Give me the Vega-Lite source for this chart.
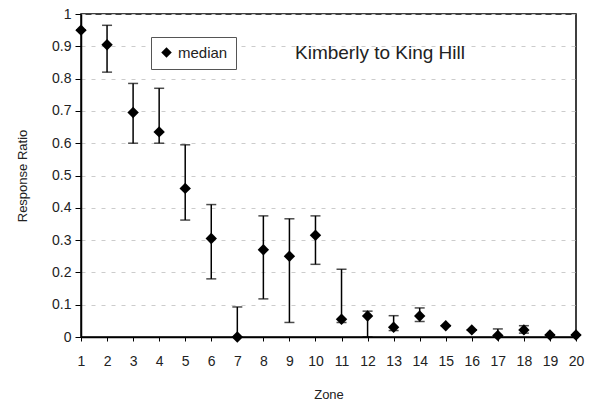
{
  "$schema": "https://vega.github.io/schema/vega-lite/v6.json",
  "width": 495,
  "height": 323,
  "autosize": "none",
  "padding": {"left": 81, "top": 14, "right": 18, "bottom": 74},
  "background": "white",
  "title": {"text": "Kimberly to King Hill", "anchor": "start", "frame": "group", "orient": "top", "offset": 0, "baseline": "alphabetic", "dx": 214, "dy": 71, "fontSize": 19, "fontWeight": "normal", "font": "Liberation Sans", "color": "#222"},
  "config": {
    "font": "Liberation Sans",
    "view": {"stroke": "black", "strokeWidth": 1.5},
    "axis": {"labelFont": "Liberation Sans", "titleFont": "Liberation Sans", "labelColor": "#222", "titleColor": "#222", "domainColor": "black", "tickColor": "black", "titleFontWeight": "normal", "labelOverlap": false, "labelBound": false, "labelFlush": false}
  },
  "resolve": {"axis": {"y": "independent"}},
  "data": {
    "values": [
      {"zone": 1, "median": 0.95, "lo": 0.95, "hi": 0.95},
      {"zone": 2, "median": 0.905, "lo": 0.82, "hi": 0.965},
      {"zone": 3, "median": 0.695, "lo": 0.6, "hi": 0.785},
      {"zone": 4, "median": 0.635, "lo": 0.6, "hi": 0.77},
      {"zone": 5, "median": 0.46, "lo": 0.362, "hi": 0.595},
      {"zone": 6, "median": 0.305, "lo": 0.18, "hi": 0.41},
      {"zone": 7, "median": 0.0, "lo": 0.0, "hi": 0.093},
      {"zone": 8, "median": 0.27, "lo": 0.118, "hi": 0.375},
      {"zone": 9, "median": 0.25, "lo": 0.045, "hi": 0.366},
      {"zone": 10, "median": 0.315, "lo": 0.225, "hi": 0.375},
      {"zone": 11, "median": 0.055, "lo": 0.045, "hi": 0.21},
      {"zone": 12, "median": 0.065, "lo": 0.0, "hi": 0.08},
      {"zone": 13, "median": 0.03, "lo": 0.02, "hi": 0.066},
      {"zone": 14, "median": 0.065, "lo": 0.048, "hi": 0.09},
      {"zone": 15, "median": 0.035, "lo": 0.035, "hi": 0.035},
      {"zone": 16, "median": 0.022, "lo": 0.022, "hi": 0.022},
      {"zone": 17, "median": 0.005, "lo": 0.0, "hi": 0.025},
      {"zone": 18, "median": 0.022, "lo": 0.012, "hi": 0.035},
      {"zone": 19, "median": 0.006, "lo": 0.006, "hi": 0.006},
      {"zone": 20, "median": 0.006, "lo": 0.006, "hi": 0.006}
    ]
  },
  "encoding": {
    "x": {"field": "zone", "type": "quantitative", "scale": {"domain": [1, 20], "nice": false}, "title": "Zone",
          "axis": {"values": [1,2,3,4,5,6,7,8,9,10,11,12,13,14,15,16,17,18,19,20], "format": "d", "grid": false, "labelFontSize": 14, "titleFontSize": 13, "tickSize": 4, "labelPadding": 13, "titlePadding": 20, "domainWidth": 1.5}},
    "y": {"field": "median", "type": "quantitative", "scale": {"domain": [0, 1], "nice": false}, "title": "Response Ratio",
          "axis": {"values": [0,0.1,0.2,0.3,0.4,0.5,0.6,0.7,0.8,0.9,1], "format": "~g", "grid": true, "gridColor": "#ccc", "gridDash": [4, 6], "labelFontSize": 14, "titleFontSize": 13, "tickSize": 6, "labelPadding": 4, "titlePadding": 22, "domainWidth": 1.5}}
  },
  "layer": [
    {
      "mark": {"type": "rule", "color": "black", "strokeWidth": 1.5},
      "encoding": {
        "y": {"field": "lo", "type": "quantitative", "axis": null},
        "y2": {"field": "hi"}
      }
    },
    {
      "mark": {"type": "tick", "orient": "horizontal", "size": 10, "thickness": 1.5, "color": "black"},
      "encoding": {"y": {"field": "lo", "type": "quantitative", "axis": null}}
    },
    {
      "mark": {"type": "tick", "orient": "horizontal", "size": 10, "thickness": 1.5, "color": "black"},
      "encoding": {"y": {"field": "hi", "type": "quantitative", "axis": null}}
    },
    {
      "mark": {"type": "point", "shape": "diamond", "filled": true, "size": 130, "opacity": 1},
      "encoding": {
        "color": {"datum": "median", "type": "nominal", "scale": {"range": ["black"]},
                  "legend": {"title": null, "orient": "none", "legendX": 70, "legendY": 23, "strokeColor": "#555", "padding": 8, "labelFontSize": 15, "labelColor": "#222", "symbolType": "diamond", "symbolSize": 110, "fillColor": "white"}}
      }
    }
  ]
}
